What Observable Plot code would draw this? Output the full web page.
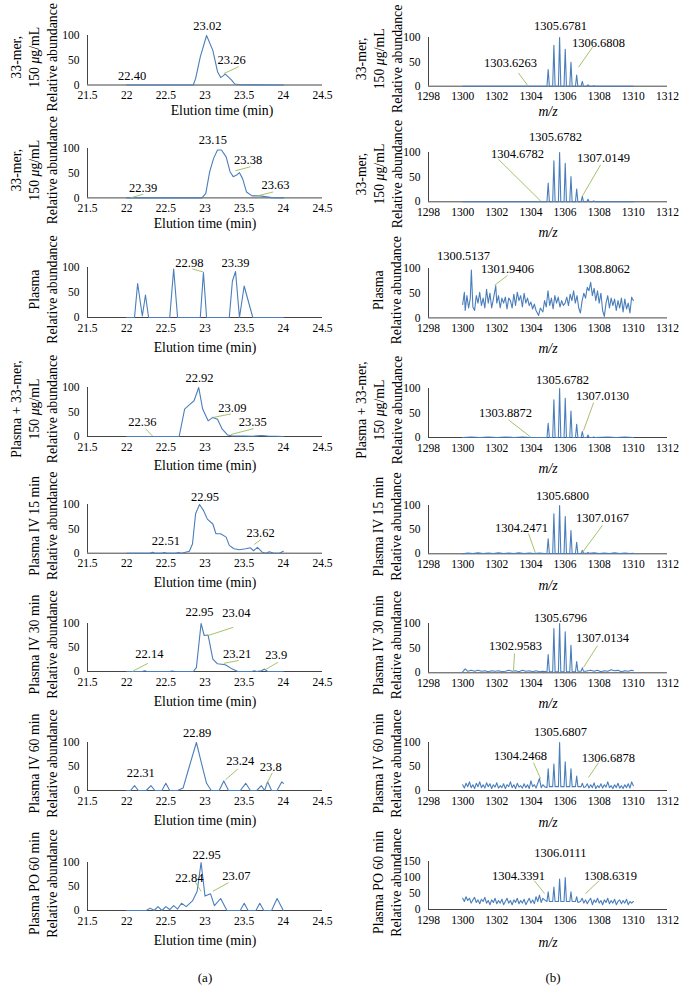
<!DOCTYPE html>
<html><head><meta charset="utf-8">
<script src="https://cdn.jsdelivr.net/npm/d3@7"></script>
<script src="https://cdn.jsdelivr.net/npm/@observablehq/plot@0.6"></script>
<style>
body{margin:0;background:#fff;}
#wrap{position:relative;width:689px;height:998px;font-family:"Liberation Serif","DejaVu Serif",serif;color:#000;}
#wrap svg, #wrap svg text, #wrap svg tspan{font-family:"Liberation Serif","DejaVu Serif",serif !important;}
.panel{position:absolute;}
.cap{position:absolute;font-size:13px;transform:translate(-50%,-50%);}
</style></head><body><div id="wrap"></div>
<script>
// ---------- tick labels ----------
const xTicksA = [21.5, 22, 22.5, 23, 23.5, 24, 24.5];
const xTicksB = [1298, 1300, 1302, 1304, 1306, 1308, 1310, 1312];
const yTicks100 = [0, 50, 100];
const yTicks150 = [0, 50, 100, 150];

// ---------- row titles ----------
const rowTitles = [
  "33-mer,\n150 μg/mL\nRelative abundance",
  "33-mer,\n150 μg/mL\nRelative abundance",
  "Plasma\nRelative abundance",
  "Plasma + 33-mer,\n150 μg/mL\nRelative abundance",
  "Plasma IV 15 min\nRelative abundance",
  "Plasma IV 30 min\nRelative abundance",
  "Plasma IV 60 min\nRelative abundance",
  "Plasma PO 60 min\nRelative abundance"
];

// ---------- (a) chromatograms: [time, abundance] ----------
const chromA1 = [[22.0,0],[22.85,0],[22.88,13],[22.94,57],[23.02,100],[23.1,70],[23.16,27],[23.2,15],[23.26,22],[23.34,10],[23.38,2],[23.45,0.5],[24.0,0]];
const chromA2 = [[22.0,0],[22.96,0],[23.01,9],[23.06,53],[23.11,80],[23.16,97],[23.21,97],[23.27,83],[23.32,53],[23.36,43],[23.41,47],[23.44,51],[23.48,39],[23.53,12],[23.6,4],[23.7,4],[23.79,2],[23.85,0.5],[24.0,0]];
const chromA3 = [[22.0,0],[22.1,0],[22.14,68],[22.2,3],[22.24,45],[22.28,0],[22.55,0],[22.6,97],[22.65,0],[22.94,0],[22.98,90],[23.02,0],[23.31,0],[23.35,73],[23.39,92],[23.44,0],[23.5,63],[23.61,0],[24.0,0]];
const chromA4 = [[22.0,0],[22.67,0],[22.74,56],[22.81,66],[22.86,73],[22.92,100],[22.97,56],[23.04,32],[23.1,39],[23.16,35],[23.22,15],[23.29,3],[23.35,1],[23.5,1],[23.6,0.5],[23.72,2],[23.8,1],[24.0,0]];
const chromA5 = [[22.0,0],[22.3,0],[22.33,2],[22.36,0],[22.45,0],[22.48,1.5],[22.51,0],[22.63,0],[22.66,1.5],[22.7,0],[22.8,4],[22.84,19],[22.88,81],[22.93,100],[22.98,88],[23.03,70],[23.1,60],[23.14,40],[23.2,40],[23.27,33],[23.31,16],[23.37,9],[23.44,7],[23.52,9],[23.58,11],[23.62,5],[23.67,12],[23.73,2],[23.78,0],[23.82,3],[23.88,0],[23.95,0],[24.0,4]];
const chromA6 = [[22.0,0],[22.2,0],[22.23,1.5],[22.26,0],[22.55,0],[22.58,1],[22.62,0],[22.85,0],[22.89,8],[22.95,100],[22.99,75],[23.04,76],[23.1,26],[23.16,16],[23.26,14],[23.35,5],[23.42,0],[23.6,0],[23.63,1.5],[23.66,0],[23.72,1.5],[23.76,5],[23.8,0],[24.0,0]];
const chromA7 = [[22.0,0],[22.05,0],[22.1,10],[22.15,0],[22.25,0],[22.31,10],[22.36,0],[22.45,0],[22.5,15],[22.55,0],[22.65,0],[22.72,5],[22.8,50],[22.89,100],[22.95,60],[23.02,15],[23.08,0],[23.18,0],[23.24,20],[23.3,0],[23.45,0],[23.52,15],[23.58,0],[23.66,0],[23.72,10],[23.76,0],[23.8,18],[23.85,0],[23.92,0],[23.98,18],[24.0,15]];
const chromA8 = [[22.0,0],[22.25,0],[22.3,5],[22.35,0],[22.4,8],[22.45,0],[22.5,8],[22.55,2],[22.6,10],[22.65,3],[22.7,15],[22.76,8],[22.84,20],[22.9,40],[22.95,100],[23.0,30],[23.07,35],[23.12,10],[23.2,25],[23.28,0],[23.45,0],[23.5,15],[23.55,0],[23.65,0],[23.7,15],[23.75,0],[23.85,0],[23.92,25],[24.0,0]];

// ---------- (a) peak labels [text, time, y] and leader lines [x1,y1,x2,y2] ----------
const labelsA1 = [["23.02",23.03,120],["23.26",23.34,49.5],["22.40",22.07,19]];
const leadersA1 = [[23.24,23,23.43,37]];
const labelsA2 = [["23.15",23.1,117],["23.38",23.55,76],["23.63",23.9,26],["22.39",22.21,20]];
const leadersA2 = [[23.39,55,23.58,63],[23.67,4,23.87,12],[22.05,0,22.21,7.5]];
const labelsA3 = [["22.98",22.8,109],["23.39",23.39,109]];
const leadersA3 = [[22.84,97,22.98,91]];
const labelsA4 = [["22.92",22.93,120],["23.09",23.35,59],["23.35",23.61,30],["22.36",22.2,30]];
const leadersA4 = [[23.11,39,23.33,46],[23.33,4,23.62,16],[22.24,16,22.33,1]];
const labelsA5 = [["22.95",23.0,116],["22.51",22.5,26],["23.62",23.71,42]];
const leadersA5 = [[23.63,18,23.71,27.5]];
const labelsA6 = [["22.95",22.93,125],["23.04",23.4,121],["23.21",23.41,37.5],["23.9",23.91,35],["22.14",22.29,37.5]];
const leadersA6 = [[23.04,75,23.36,92],[23.24,17,23.43,23],[23.77,4,23.93,19],[22.07,0,22.27,17]];
const labelsA7 = [["22.89",22.9,119],["22.31",22.18,37.5],["23.24",23.45,62],["23.8",23.84,50]];
const leadersA7 = [[23.26,22,23.42,45],[23.78,12,23.86,37]];
const labelsA8 = [["22.95",23.02,116],["22.84",22.8,67],["23.07",23.4,71]];
const leadersA8 = [[22.88,58,22.95,40],[23.1,40,23.3,58]];

// ---------- (b) spectra: [m/z, abundance] ----------
const specB1 = [[1300,0],[1304.94,0],[1305.01,34],[1305.08,0],[1305.275,0],[1305.345,84],[1305.415,0],[1305.61,0],[1305.68,100],[1305.75,0],[1305.94,0],[1306.01,76],[1306.08,0],[1306.275,0],[1306.345,49],[1306.415,0],[1306.61,0],[1306.68,23],[1306.75,0],[1306.94,0],[1307.01,10],[1307.08,0],[1307.275,0],[1307.345,3],[1307.415,0],[1307.61,0],[1307.68,1],[1307.75,0],[1310,0]];
const specB2 = [[1300,0],[1304.94,0],[1305.01,38],[1305.08,0],[1305.275,0],[1305.345,83],[1305.415,0],[1305.61,0],[1305.68,100],[1305.75,0],[1305.94,0],[1306.01,78],[1306.08,0],[1306.275,0],[1306.345,51],[1306.415,0],[1306.61,0],[1306.68,26],[1306.75,0],[1306.94,0],[1307.01,11],[1307.08,0],[1307.275,0],[1307.345,5],[1307.415,0],[1307.61,0],[1307.68,2],[1307.75,0],[1310,0]];
const specB3 = [[1300.0,27],[1300.1,52],[1300.15,15],[1300.25,45],[1300.35,20],[1300.45,40],[1300.51,97],[1300.6,22],[1300.7,15],[1300.8,45],[1300.9,30],[1301.0,52],[1301.1,25],[1301.2,40],[1301.3,20],[1301.4,58],[1301.5,30],[1301.6,50],[1301.7,20],[1301.8,38],[1301.94,65],[1302.0,30],[1302.1,45],[1302.2,20],[1302.3,40],[1302.4,30],[1302.5,42],[1302.6,18],[1302.7,40],[1302.8,35],[1302.9,20],[1303.0,48],[1303.1,25],[1303.2,52],[1303.3,35],[1303.4,45],[1303.5,22],[1303.6,50],[1303.7,30],[1303.8,40],[1303.9,25],[1304.0,32],[1304.1,18],[1304.2,28],[1304.3,15],[1304.45,5],[1304.55,20],[1304.7,12],[1304.8,35],[1304.9,22],[1305.0,55],[1305.1,25],[1305.2,40],[1305.3,18],[1305.4,45],[1305.5,30],[1305.6,42],[1305.7,22],[1305.8,35],[1305.9,25],[1306.0,30],[1306.1,42],[1306.2,25],[1306.3,48],[1306.4,35],[1306.5,55],[1306.6,30],[1306.7,45],[1306.8,20],[1306.9,10],[1307.0,35],[1307.1,50],[1307.2,40],[1307.3,62],[1307.4,55],[1307.5,72],[1307.6,45],[1307.7,60],[1307.8,35],[1307.9,55],[1308.0,30],[1308.1,50],[1308.2,15],[1308.3,3],[1308.4,30],[1308.5,45],[1308.6,20],[1308.7,40],[1308.8,25],[1308.9,38],[1309.0,15],[1309.1,35],[1309.2,20],[1309.3,40],[1309.4,12],[1309.5,38],[1309.6,18],[1309.7,30],[1309.8,10],[1309.9,42],[1310.0,35]];
const specB4 = [[1300,0],[1300.5,1],[1301,0],[1301.5,1],[1302,0],[1302.5,1],[1303,0],[1303.5,1],[1304,0],[1304.94,0],[1305.01,29],[1305.08,0],[1305.275,0],[1305.345,77],[1305.415,0],[1305.61,0],[1305.68,100],[1305.75,0],[1305.94,0],[1306.01,80],[1306.08,0],[1306.275,0],[1306.345,54],[1306.415,0],[1306.61,0],[1306.68,27],[1306.75,0],[1306.94,0],[1307.01,12],[1307.08,0],[1307.275,0],[1307.345,5],[1307.415,0],[1307.61,0],[1307.68,1],[1307.75,0],[1308.5,1],[1309,0],[1309.5,1],[1310,0]];
const specB5 = [[1300,0],[1300.3,1.5],[1300.6,0.5],[1300.9,2],[1301.2,0.5],[1301.5,1.5],[1301.8,0.5],[1302.1,2],[1302.4,0.5],[1302.7,1.5],[1303.0,0.5],[1303.3,2],[1303.6,0.5],[1303.9,1.5],[1304.2,0.5],[1304.5,1.5],[1304.8,0.5],[1304.94,0.5],[1305.01,31],[1305.08,0.5],[1305.275,0.5],[1305.345,83],[1305.415,0.5],[1305.61,0.5],[1305.68,100],[1305.75,0.5],[1305.94,0.5],[1306.01,77],[1306.08,0.5],[1306.275,0.5],[1306.345,48],[1306.415,0.5],[1306.61,0.5],[1306.68,24],[1306.75,0.5],[1306.94,0.5],[1307.01,7],[1307.08,1],[1307.275,1],[1307.345,3],[1307.415,1],[1307.7,2],[1308.0,0.5],[1308.3,1.5],[1308.6,0.5],[1308.9,2],[1309.2,0.5],[1309.5,1.5],[1309.8,0.5],[1310,1]];
const specB6 = [[1300,2],[1300.15,8],[1300.3,3],[1300.5,5],[1300.7,3],[1300.9,5],[1301.1,3],[1301.3,4],[1301.5,2],[1301.7,4],[1301.9,3],[1302.1,4],[1302.3,2],[1302.5,3],[1302.7,5],[1302.9,3],[1303.1,4],[1303.3,2],[1303.5,5],[1303.7,3],[1303.9,4],[1304.1,2],[1304.3,4],[1304.5,2],[1304.7,3],[1304.94,2],[1305.01,37],[1305.08,2],[1305.275,2],[1305.345,90],[1305.415,2],[1305.61,2],[1305.68,100],[1305.75,2],[1305.94,2],[1306.01,83],[1306.08,2],[1306.275,2],[1306.345,56],[1306.415,2],[1306.61,2],[1306.68,23],[1306.75,3],[1306.94,3],[1307.01,10],[1307.08,3],[1307.2,3],[1307.5,5],[1307.7,3],[1307.9,5],[1308.1,2],[1308.3,4],[1308.5,3],[1308.7,6],[1308.9,4],[1309.1,5],[1309.3,2],[1309.5,4],[1309.7,3],[1309.9,5],[1310,4]];
const specB7 = [[1300.0,12],[1300.1,5],[1300.2,15],[1300.3,8],[1300.4,18],[1300.5,6],[1300.6,12],[1300.7,4],[1300.8,15],[1300.9,8],[1301.0,18],[1301.1,6],[1301.2,12],[1301.3,5],[1301.4,16],[1301.5,8],[1301.6,14],[1301.7,4],[1301.8,12],[1301.9,7],[1302.0,16],[1302.1,5],[1302.2,10],[1302.3,6],[1302.4,14],[1302.5,4],[1302.6,12],[1302.7,8],[1302.8,18],[1302.9,6],[1303.0,12],[1303.1,4],[1303.2,15],[1303.3,7],[1303.4,10],[1303.5,5],[1303.6,14],[1303.7,6],[1303.8,12],[1303.9,4],[1304.0,20],[1304.1,8],[1304.2,12],[1304.3,5],[1304.4,15],[1304.5,25],[1304.6,6],[1304.7,12],[1304.8,8],[1304.94,6],[1305.01,45],[1305.08,8],[1305.275,8],[1305.345,55],[1305.415,8],[1305.61,8],[1305.68,100],[1305.75,8],[1305.94,8],[1306.01,60],[1306.08,8],[1306.275,8],[1306.345,45],[1306.415,8],[1306.61,8],[1306.68,30],[1306.75,8],[1306.94,8],[1307.01,15],[1307.1,6],[1307.2,8],[1307.3,14],[1307.4,5],[1307.5,12],[1307.6,6],[1307.7,16],[1307.8,4],[1307.9,10],[1308.0,6],[1308.1,14],[1308.2,5],[1308.3,12],[1308.4,7],[1308.5,18],[1308.6,6],[1308.7,10],[1308.8,4],[1308.9,12],[1309.0,6],[1309.1,15],[1309.2,5],[1309.3,10],[1309.4,4],[1309.5,12],[1309.6,6],[1309.7,14],[1309.8,5],[1309.9,18],[1310.0,10]];
const specB8 = [[1300.0,35],[1300.1,25],[1300.2,40],[1300.3,28],[1300.4,35],[1300.5,20],[1300.6,30],[1300.7,38],[1300.8,22],[1300.9,30],[1301.0,18],[1301.1,32],[1301.2,25],[1301.3,38],[1301.4,20],[1301.5,28],[1301.6,15],[1301.7,30],[1301.8,22],[1301.9,35],[1302.0,18],[1302.1,28],[1302.2,20],[1302.3,32],[1302.4,15],[1302.5,25],[1302.6,35],[1302.7,20],[1302.8,28],[1302.9,15],[1303.0,30],[1303.1,22],[1303.2,35],[1303.3,18],[1303.4,28],[1303.5,20],[1303.6,32],[1303.7,15],[1303.8,25],[1303.9,35],[1304.0,20],[1304.1,30],[1304.2,18],[1304.3,40],[1304.4,25],[1304.5,45],[1304.6,22],[1304.7,35],[1304.8,30],[1304.94,25],[1305.01,55],[1305.08,25],[1305.275,25],[1305.345,70],[1305.415,25],[1305.61,25],[1305.68,95],[1305.75,25],[1305.94,25],[1306.01,100],[1306.08,25],[1306.275,25],[1306.345,55],[1306.415,25],[1306.61,25],[1306.68,40],[1306.75,22],[1306.9,25],[1307.0,35],[1307.1,20],[1307.2,30],[1307.3,18],[1307.4,28],[1307.5,35],[1307.6,15],[1307.7,30],[1307.8,22],[1307.9,35],[1308.0,20],[1308.1,28],[1308.2,15],[1308.3,30],[1308.4,22],[1308.5,35],[1308.6,18],[1308.7,28],[1308.8,20],[1308.9,32],[1309.0,15],[1309.1,25],[1309.2,30],[1309.3,18],[1309.4,28],[1309.5,20],[1309.6,32],[1309.7,15],[1309.8,25],[1309.9,20],[1310.0,25]];

// ---------- (b) labels and leaders ----------
const labelsB1 = [["1305.6781",1305.73,123],["1303.6263",1302.8,47],["1306.6808",1307.96,88]];
const leadersB1 = [[1303.27,27,1303.8,2],[1307.61,80,1306.79,39]];
const labelsB2 = [["1305.6782",1305.44,131],["1304.6782",1303.21,97],["1307.0149",1308.25,89]];
const leadersB2 = [[1302.1,86,1304.62,0],[1308.08,75,1307.02,12]];
const labelsB3 = [["1300.5137",1300.05,125],["1301.9406",1302.63,99],["1308.8062",1308.25,99]];
const leadersB3 = [[1302.63,86,1301.87,66]];
const labelsB4 = [["1305.6782",1305.85,118],["1303.8872",1302.51,50],["1307.0130",1308.19,85]];
const leadersB4 = [[1302.69,36,1303.98,1],[1307.67,71,1307.08,14]];
const labelsB5 = [["1305.6800",1305.85,119],["1304.2471",1303.45,54],["1307.0167",1308.19,75]];
const leadersB5 = [[1303.86,42,1304.27,1],[1308.19,59,1307.02,3]];
const labelsB6 = [["1305.6796",1305.73,112],["1302.9583",1303.1,55],["1307.0134",1308.19,70]];
const leadersB6 = [[1303.04,39,1302.98,5],[1307.9,55,1307.08,11]];
const labelsB7 = [["1305.6807",1305.73,121],["1304.2468",1303.39,71],["1306.6878",1308.54,67]];
const leadersB7 = [[1304.15,58,1304.56,25],[1307.96,58,1307.37,27]];
const labelsB8 = [["1306.0111",1305.73,178],["1304.3391",1303.27,106],["1308.6319",1308.66,106]];
const leadersB8 = [[1304.2,90,1304.8,50],[1308.0,90,1307.2,50]];

// ---------- layout ----------
const LINE = "#4a7ebb", LEAD = "#9bbb59", AXIS = "#454545";
const FONT = "Liberation Serif";
const wrap = document.getElementById("wrap");

const panels = [
  {col:0,y100:35,y0:84.5,t:0,data:chromA1,labels:labelsA1,leaders:leadersA1,tDy:25.5,tDx:17},
  {col:0,y100:148.3,y0:197.7,t:1,data:chromA2,labels:labelsA2,leaders:leadersA2,tDy:25.5,tDx:0},
  {col:0,y100:266.7,y0:316.7,t:2,data:chromA3,labels:labelsA3,leaders:leadersA3,tDy:30.3,tDx:0},
  {col:0,y100:386.7,y0:435.7,t:3,data:chromA4,labels:labelsA4,leaders:leadersA4,tDy:29.3,tDx:0},
  {col:0,y100:504,y0:552.7,t:4,data:chromA5,labels:labelsA5,leaders:leadersA5,tDy:29.3,tDx:0},
  {col:0,y100:623,y0:671,t:5,data:chromA6,labels:labelsA6,leaders:leadersA6,tDy:30,tDx:0},
  {col:0,y100:742,y0:790,t:6,data:chromA7,labels:labelsA7,leaders:leadersA7,tDy:30,tDx:0},
  {col:0,y100:862,y0:910,t:7,data:chromA8,labels:labelsA8,leaders:leadersA8,tDy:30,tDx:0},
  {col:1,y100:37.3,y0:86,t:0,data:specB1,labels:labelsB1,leaders:leadersB1,tDy:25,tDx:0},
  {col:1,y100:151.7,y0:201,t:1,data:specB2,labels:labelsB2,leaders:leadersB2,tDy:31,tDx:0},
  {col:1,y100:268.3,y0:317.7,t:2,data:specB3,labels:labelsB3,leaders:leadersB3,tDy:30.3,tDx:0},
  {col:1,y100:387.7,y0:436.7,t:3,data:specB4,labels:labelsB4,leaders:leadersB4,tDy:31.3,tDx:0},
  {col:1,y100:505,y0:553.3,t:4,data:specB5,labels:labelsB5,leaders:leadersB5,tDy:31.7,tDx:0},
  {col:1,y100:623,y0:672.3,t:5,data:specB6,labels:labelsB6,leaders:leadersB6,tDy:30.7,tDx:0},
  {col:1,y100:742,y0:790,t:6,data:specB7,labels:labelsB7,leaders:leadersB7,tDy:32,tDx:0},
  {col:1,y100:861,y0:909,t:7,data:specB8,labels:labelsB8,leaders:leadersB8,tDy:33,tDx:0,yMax:150}
];

function italicMu(svg){
  d3.select(svg).selectAll("tspan").each(function(){
    const t = this.textContent, i = t.indexOf("μ");
    if (i < 0) return;
    this.textContent = t.slice(0, i);
    const it = document.createElementNS("http://www.w3.org/2000/svg", "tspan");
    it.setAttribute("font-style", "italic");
    it.textContent = "μ";
    this.appendChild(it);
    this.appendChild(document.createTextNode(t.slice(i + 1)));
  });
}

for (const p of panels) {
  const left = p.col === 0;
  const width = left ? 345 : 344;
  const mL = left ? 87 : 83, mR = left ? 23 : 22;
  const mT = 32, mB = 48;
  const plotH = p.y0 - p.y100;
  const height = mT + plotH + mB;
  const xDom = left ? [21.5, 24.5] : [1298, 1312];
  const yMax = p.yMax || 100;
  const title = rowTitles[p.t];
  const nLines = title.split("\n").length;
  const titleDx = left ? (nLines === 3 ? -54 : -45.5) : (nLines === 3 ? -50 : -42);
  const svg = Plot.plot({
    width, height,
    marginLeft: mL, marginRight: mR, marginTop: mT, marginBottom: mB,
    style: {fontFamily: FONT, fontSize: "11.5px", color: "#000", background: "transparent", overflow: "visible"},
    x: {domain: xDom, ticks: left ? xTicksA : xTicksB, tickSize: 0, tickPadding: 6, tickFormat: d => String(d), label: null},
    y: {domain: [0, yMax], ticks: yMax === 150 ? yTicks150 : yTicks100, tickSize: 0, tickPadding: 8, label: null},
    marks: [
      Plot.ruleY([0], {stroke: AXIS, strokeWidth: 1}),
      Plot.ruleX([xDom[0]], {stroke: AXIS, strokeWidth: 1}),
      Plot.line(p.data, {x: d => d[0], y: d => d[1], stroke: LINE, strokeWidth: 1.1}),
      Plot.link(p.leaders, {x1: d => d[0], y1: d => d[1], x2: d => d[2], y2: d => d[3], stroke: LEAD, strokeWidth: 0.9}),
      Plot.text(p.labels, {x: d => d[1], y: d => d[2], text: d => d[0], fontSize: 12.5, fontFamily: FONT, fill: "#000"}),
      Plot.text([title], {frameAnchor: "left", rotate: -90, dx: titleDx, dy: -3, fontSize: 13.8, fontFamily: FONT, lineHeight: 1.3, textAnchor: "middle", lineAnchor: "middle", fill: "#000"}),
      Plot.text([left ? "Elution time (min)" : "m/z"], {frameAnchor: "bottom", dy: p.tDy, dx: p.tDx, fontSize: 13.8, fontFamily: FONT, lineAnchor: "middle", textAnchor: "middle", fontStyle: left ? "normal" : "italic", fill: "#000"})
    ]
  });
  svg.setAttribute("font-family", FONT);
  italicMu(svg);
  const div = document.createElement("div");
  div.className = "panel";
  div.style.left = (left ? 0 : 345) + "px";
  div.style.top = (p.y100 - mT) + "px";
  div.appendChild(svg);
  wrap.appendChild(div);
}

const captions = [["(a)", 205, 978], ["(b)", 553, 978]];
for (const [t, x, y] of captions) {
  const c = document.createElement("div");
  c.className = "cap";
  c.style.left = x + "px"; c.style.top = y + "px";
  c.textContent = t;
  wrap.appendChild(c);
}
</script></body></html>
